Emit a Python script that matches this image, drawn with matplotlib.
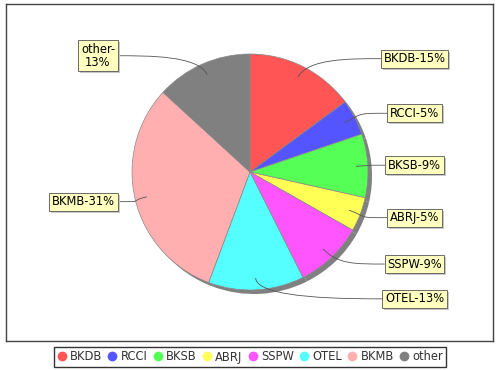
import matplotlib
matplotlib.use("Agg")
import matplotlib.pyplot as plt
import numpy as np
from matplotlib.path import Path
from matplotlib.patches import PathPatch, Rectangle
from matplotlib.lines import Line2D

categories = ["BKDB", "RCCI", "BKSB", "ABRJ", "SSPW", "OTEL", "BKMB", "other"]
values = [14.9, 4.9, 8.7, 4.7, 9.4, 13.1, 31.1, 13.2]
label_texts = ["BKDB-15%", "RCCI-5%", "BKSB-9%", "ABRJ-5%", "SSPW-9%", "OTEL-13%", "BKMB-31%", "other-\n13%"]
colors = ["#FF5555", "#5555FF", "#55FF55", "#FFFF55", "#FF55FF", "#55FFFF", "#FFAFAF", "#808080"]

W, H = 500, 370
fig = plt.figure(figsize=(5, 3.7), dpi=100)
fig.patch.set_facecolor("white")

# plot frame in pixel-like data units (y up)
fl, fr, ft, fb = 6, 493, 4, 341
ax = fig.add_axes([fl / W, (H - fb) / H, (fr - fl) / W, (fb - ft) / H])

cx, cy, R = 250, H - 172, 118

# shadow
ax.pie(values, colors=["#808080"] * len(values), startangle=90, counterclock=False,
       center=(cx + 4, cy - 4), radius=R, frame=True,
       wedgeprops=dict(linewidth=0))
wedges, _ = ax.pie(values, colors=colors, startangle=90, counterclock=False,
                   center=(cx, cy), radius=R, frame=True,
                   wedgeprops=dict(edgecolor="#8a8a8a", linewidth=0.5))

ax.set_xlim(fl, fr)
ax.set_ylim(H - fb, H - ft)
ax.set_aspect("auto")
ax.set_xticks([])
ax.set_yticks([])
for s in ax.spines.values():
    s.set_color("#444444")
    s.set_linewidth(1.0)

R_link = 127
texts = []
for w, lab in zip(wedges, label_texts):
    th = np.deg2rad((w.theta1 + w.theta2) / 2)
    ly = cy + R_link * np.sin(th)
    right = np.cos(th) >= 0
    if right:
        tx, ha = 414.5, "center"
    else:
        tx, ha = 115, "right"
    t = ax.text(tx, ly, lab, ha=ha, va="center", fontsize=8.3, color="black",
                linespacing=1.0, multialignment="center", zorder=5,
                bbox=dict(boxstyle="square,pad=0.22", fc="#FFFFC0", ec="#555555", lw=0.6))
    texts.append((t, th, ly, right))

fig.canvas.draw()
inv = ax.transData.inverted()
for t, th, ly, right in texts:
    bb = t.get_bbox_patch().get_window_extent()
    (x0, y0), (x1, y1) = inv.transform([[bb.x0, bb.y0], [bb.x1, bb.y1]])
    # label shadow
    ax.add_patch(Rectangle((x0 + 2, y0 - 2), x1 - x0, y1 - y0, fc="#C8C8C8", ec="none", zorder=4))
    ex = x0 if right else x1
    p0 = (cx + 0.9 * R * np.cos(th), cy + 0.9 * R * np.sin(th))
    p1 = (cx + 1.08 * R * np.cos(th), cy + 1.08 * R * np.sin(th))
    p2 = (ex - 30, ly) if right else (ex + 30, ly)
    p3 = (ex, ly)
    path = Path([p0, p1, p2, p3], [Path.MOVETO, Path.CURVE4, Path.CURVE4, Path.CURVE4])
    ax.add_patch(PathPatch(path, fc="none", ec="#555555", lw=0.6, zorder=3))

handles = [Line2D([], [], marker="o", ls="none", markersize=6, markerfacecolor=c,
                  markeredgecolor=c) for c in colors]
leg = fig.legend(handles, categories, loc="center", bbox_to_anchor=(250 / W, (H - 357) / H),
                 ncol=len(categories), fontsize=8.3, frameon=True, fancybox=False,
                 handlelength=0.8, handletextpad=0.3, columnspacing=0.5, borderpad=0.3,
                 borderaxespad=0)
leg.get_frame().set_edgecolor("black")
leg.get_frame().set_linewidth(1.0)
for tx in leg.get_texts():
    tx.set_color("#333333")

fig.savefig("out.png", dpi=100)
